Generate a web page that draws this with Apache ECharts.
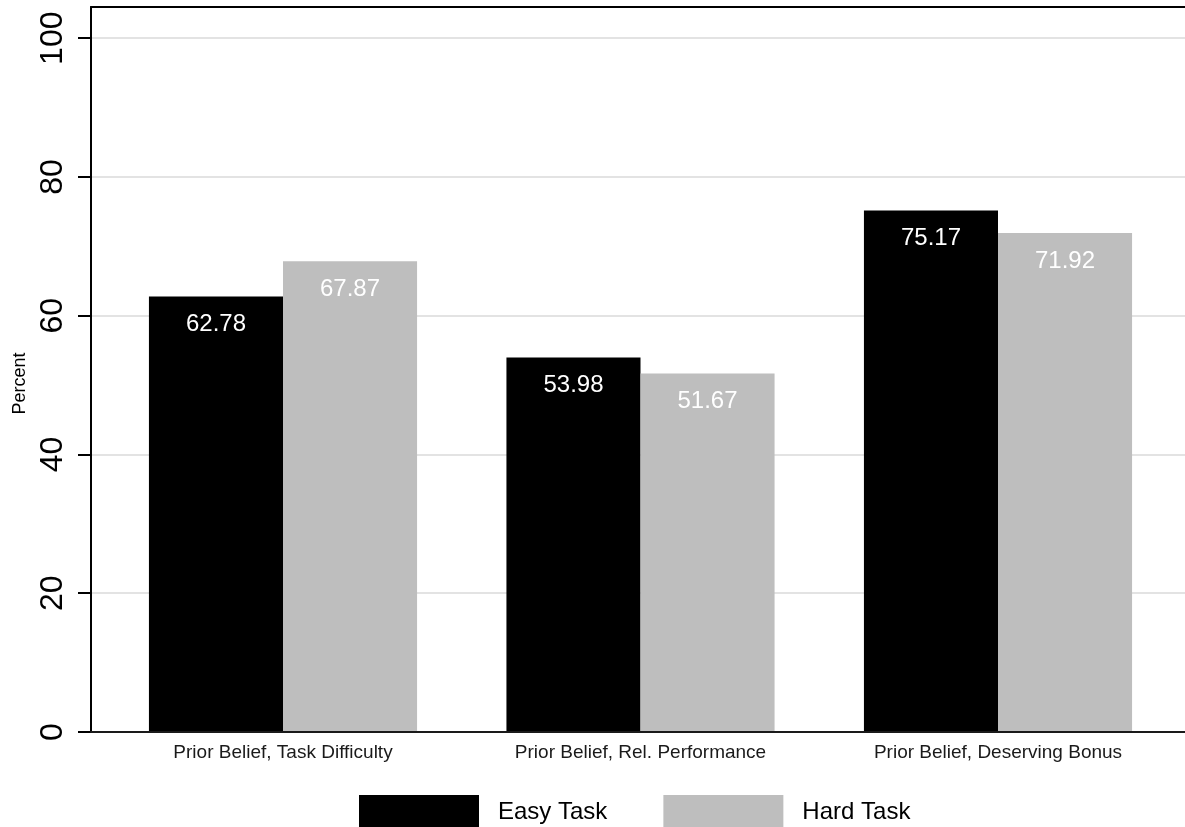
<!DOCTYPE html>
<html>
<head>
<meta charset="utf-8">
<script src="https://cdn.jsdelivr.net/npm/echarts@6/dist/echarts.min.js"></script>
<style>
  html, body { margin: 0; padding: 0; background: #fff; }
  #chart { width: 1185px; height: 827px; }
</style>
</head>
<body>
<div id="chart"></div>
<script>
const categories = ['Prior Belief, Task Difficulty', 'Prior Belief, Rel. Performance', 'Prior Belief, Deserving Bonus'];
const easyTask = [62.78, 53.98, 75.17];
const hardTask = [67.87, 51.67, 71.92];
const yTicks = [0, 20, 40, 60, 80, 100];
const seriesNames = ['Easy Task', 'Hard Task'];

const FONT = "'Liberation Sans', Arial, Helvetica, sans-serif";
const chart = echarts.init(document.getElementById('chart'), null, { renderer: 'canvas' });

const YMAX = 104.5;

const valueLabel = {
  show: true,
  position: 'insideTop',
  distance: 16,
  color: '#ffffff',
  fontSize: 24,
  fontFamily: FONT,
  formatter: p => p.value.toFixed(2)
};

chart.setOption({
  backgroundColor: '#ffffff',
  animation: false,
  textStyle: { fontFamily: FONT },
  grid: [
    { left: 91, right: -10, top: 7, bottom: 95, containLabel: false },
    { left: 104.25, right: 8.25, top: 7, bottom: 95, containLabel: false }
  ],
  legend: {
    data: seriesNames,
    left: 359,
    top: 795,
    padding: 0,
    icon: 'rect',
    itemWidth: 120,
    itemHeight: 34,
    itemGap: 56,
    textStyle: { fontSize: 24, color: '#000', fontFamily: FONT, padding: [0, 0, 0, 14] }
  },
  xAxis: [
    {
      gridIndex: 0, type: 'value', min: 0, max: 1, position: 'bottom', z: 10,
      axisLine: { show: true, lineStyle: { color: '#1a1a1a', width: 2 } },
      axisTick: { show: false }, axisLabel: { show: false }, splitLine: { show: false }
    },
    {
      gridIndex: 0, type: 'value', min: 0, max: 1, position: 'top', z: 10,
      axisLine: { show: true, lineStyle: { color: '#000', width: 2 } },
      axisTick: { show: false }, axisLabel: { show: false }, splitLine: { show: false }
    },
    {
      gridIndex: 1, type: 'category', data: categories,
      axisLine: { show: false }, axisTick: { show: false },
      axisLabel: { show: true, fontSize: 19, color: '#1a1a1a', margin: 11, fontFamily: FONT },
      splitLine: { show: false }
    }
  ],
  yAxis: [
    {
      gridIndex: 0, type: 'value', min: 0, max: YMAX, interval: 20, z: 0,
      name: 'Percent', nameLocation: 'middle', nameGap: 60, nameRotate: 90,
      nameTextStyle: { fontSize: 18, color: '#000', fontFamily: FONT, padding: [0, 28, 0, 0] },
      axisLine: { show: true, lineStyle: { color: '#000', width: 2 } },
      axisTick: { show: true, length: 13, inside: false, lineStyle: { color: '#000', width: 2 }, customValues: yTicks },
      axisLabel: { show: true, rotate: 90, fontSize: 32, margin: 22, color: '#000', fontFamily: FONT, customValues: yTicks },
      splitLine: { show: true, lineStyle: { color: '#e3e3e3', width: 2 } }
    },
    {
      gridIndex: 1, type: 'value', min: 0, max: YMAX, interval: 20, show: false,
      splitLine: { show: false }
    }
  ],
  series: [
    {
      name: seriesNames[0], type: 'bar', xAxisIndex: 2, yAxisIndex: 1, z: 5,
      data: easyTask, barCategoryGap: '25%', barGap: '0%',
      itemStyle: { color: '#000000' },
      label: valueLabel
    },
    {
      name: seriesNames[1], type: 'bar', xAxisIndex: 2, yAxisIndex: 1, z: 5,
      data: hardTask, barCategoryGap: '25%', barGap: '0%',
      itemStyle: { color: '#bebebe' },
      label: valueLabel
    }
  ]
});
</script>
</body>
</html>
